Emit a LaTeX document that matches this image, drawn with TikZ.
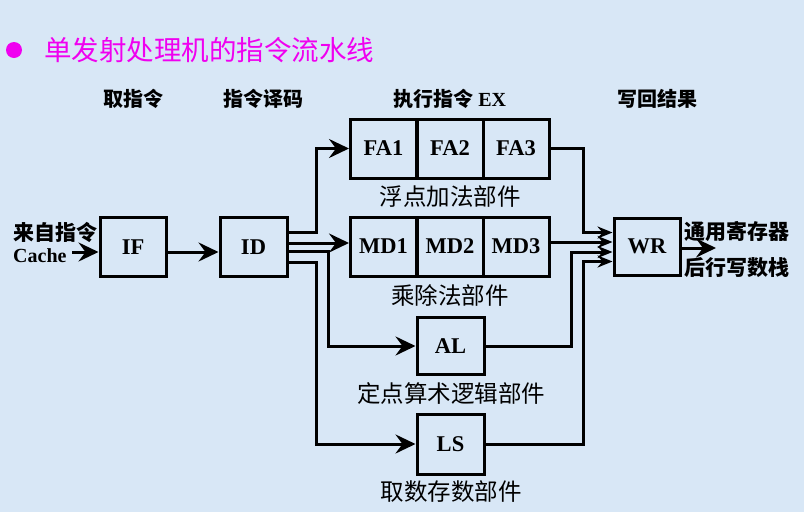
\documentclass[tikz,border=0pt]{standalone}
\usepackage{fontspec}
\setmainfont{Liberation Serif}
\newfontfamily\cjk{Noto Sans CJK SC}
\usetikzlibrary{arrows.meta}
\definecolor{bgblue}{RGB}{216,231,246}
\definecolor{ttlmag}{RGB}{240,0,240}
\newcommand{\lat}[1]{{\rmfamily\bfseries #1}}

\begin{document}
\begin{tikzpicture}[x=1pt,y=-1pt,
  unit/.style={draw,line width=3pt,inner sep=0pt,minimum width=66pt,
    minimum height=59pt,font=\fontsize{22.5}{25}\selectfont\bfseries},
  head/.style={inner sep=0pt,font=\cjk\fontsize{20}{22}\selectfont\bfseries},
  lab/.style={inner sep=0pt,font=\cjk\fontsize{23.5}{26}\selectfont},
  side/.style={inner sep=0pt,anchor=west,font=\cjk\fontsize{21}{23}\selectfont\bfseries},
  bus/.style={line width=3pt,-{Stealth[length=20pt,width=19pt,inset=7pt]}},
  wrin/.style={line width=3pt,-{Stealth[length=15pt,width=12pt,inset=5pt]}}]
  \fill[bgblue] (0,0) rectangle (804,512);

  % title
  \fill[ttlmag] (14,50) circle (8pt);
  \node[anchor=west,inner sep=0pt,text=ttlmag,font=\cjk\fontsize{27.5}{30}\selectfont]
    (title) at (44,50) {单发射处理机的指令流水线};

  % stage heads
  \node[head] (h1) at (133,99) {取指令};
  \node[head] (h2) at (263,99) {指令译码};
  \node[head] (h3) at (450,99) {执行指令 \lat{EX}};
  \node[head] (h4) at (657,99) {写回结果};

  % units
  \node[unit] (IF) at (133,247) {IF};
  \node[unit,minimum width=67pt] (ID) at (253.5,247) {ID};
  \node[unit] (FA1) at (383.5,148.5) {FA1};
  \node[unit] (FA2) at (450,148.5) {FA2};
  \node[unit] (FA3) at (516,148.5) {FA3};
  \node[unit] (MD1) at (383.5,246.5) {MD1};
  \node[unit] (MD2) at (450,246.5) {MD2};
  \node[unit] (MD3) at (516,246.5) {MD3};
  \node[unit,minimum width=67pt,minimum height=57pt] (AL) at (450.5,346) {AL};
  \node[unit,minimum width=67pt,minimum height=60pt] (LS) at (450.5,444) {LS};
  \node[unit,minimum height=57pt] (WR) at (647,246.5) {WR};

  \node[lab] (lfa) at (450,197) {浮点加法部件};
  \node[lab] (lmd) at (450,295) {乘除法部件};
  \node[lab] (lal) at (451,394) {定点算术逻辑部件};
  \node[lab] (lls) at (451,492) {取数存数部件};

  \node[side] (src1) at (13,232) {来自指令};
  \node[side,font=\fontsize{20}{22}\selectfont\bfseries] (src2) at (13,256) {Cache};
  \node[side] (dst1) at (684,232) {通用寄存器};
  \node[side] (dst2) at (684,268) {后行写数栈};

  \coordinate (cin) at (72,252);
  \coordinate (out) at (716,248);

  % fetch and decode
  \draw[bus] (cin) -- (cin -| IF.west);
  \draw[bus] ([yshift=-5pt]IF.east) -- ([yshift=-5pt]ID.west);
  % issue
  \draw[bus] ([yshift=15pt]ID.east) -- ++(28,0) |- (FA1.west);
  \draw[bus] ([yshift=4pt]ID.east) -- ([yshift=4pt]ID.east -| MD1.west);
  \draw[bus] ([yshift=-4pt]ID.east) -- ++(40,0) |- (AL.west);
  \draw[bus] ([yshift=-15pt]ID.east) -- ++(28,0) |- (LS.west);
  % write back
  \draw[wrin] (FA3.east) -- ++(33,0) |- ([yshift=14pt]WR.west);
  \draw[wrin] ([yshift=4.5pt]MD3.east) -- ([yshift=4.5pt]WR.west);
  \draw[wrin] (AL.east) -- ++(86,0) |- ([yshift=-5.5pt]WR.west);
  \draw[wrin] (LS.east) -- ++(98,0) |- ([yshift=-15pt]WR.west);
  \draw[bus] ([yshift=-1.5pt]WR.east) -- (out);
\end{tikzpicture}
\end{document}
